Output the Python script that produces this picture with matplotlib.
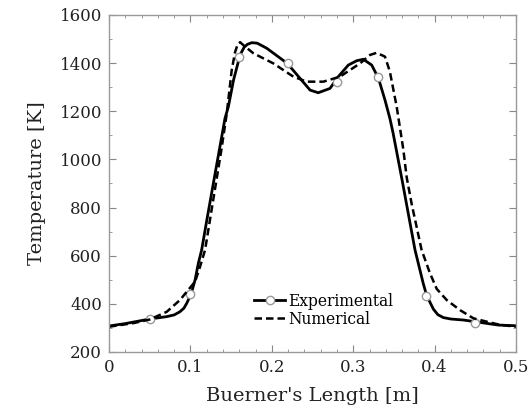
import numpy as np
import matplotlib
matplotlib.use("Agg")
import matplotlib.pyplot as plt
from matplotlib.lines import Line2D
from matplotlib.ticker import MultipleLocator

# experimental curve (solid)
exp_x = [0.0, 0.02, 0.05, 0.071, 0.08, 0.087, 0.092, 0.0954, 0.0985, 0.1016, 0.1057,
         0.1097, 0.1138, 0.12, 0.13, 0.1425, 0.1466, 0.153, 0.161, 0.166, 0.17,
         0.1753, 0.182, 0.1937, 0.219, 0.2346, 0.247, 0.257, 0.2715, 0.2817,
         0.294, 0.3043, 0.3124, 0.3227, 0.331, 0.339, 0.345, 0.349, 0.36, 0.3759,
         0.386, 0.3903, 0.3985, 0.404, 0.4107, 0.42, 0.435, 0.4496, 0.478, 0.5]
exp_T = [308, 318, 337, 347, 354, 367, 382, 402, 424, 450, 499,
         568, 624, 745, 935, 1171, 1219, 1330, 1434, 1466, 1478,
         1485, 1483, 1462, 1399, 1337, 1288, 1277, 1295, 1344,
         1392, 1410, 1416, 1392, 1337, 1247, 1171, 1109, 915, 624,
         485, 434, 378, 355, 343, 337, 333, 326, 312, 309]

# experimental measurement points
pts_x = [0.05, 0.1, 0.16, 0.22, 0.28, 0.33, 0.39, 0.45]
pts_T = [337, 442, 1427, 1399, 1322, 1341, 433, 322]

# numerical curve (dashed)
num_x = [0.0, 0.03, 0.05, 0.0709, 0.0872, 0.0954, 0.1057, 0.1118, 0.118, 0.13,
         0.138, 0.1446, 0.1507, 0.1548, 0.158, 0.161, 0.165, 0.1773, 0.2018,
         0.2264, 0.2428, 0.2633, 0.2838, 0.3084, 0.3206, 0.3288, 0.339, 0.345,
         0.3534, 0.3616, 0.3657, 0.3718, 0.384, 0.3943, 0.4026, 0.4148, 0.4312,
         0.4476, 0.464, 0.48, 0.5]
num_T = [305, 320, 335, 367, 416, 450, 492, 554, 624, 873,
         1039, 1190, 1370, 1445, 1478, 1487, 1475, 1441, 1399,
         1344, 1323, 1323, 1344, 1399, 1434, 1443, 1427, 1365,
         1219, 1040, 925, 815, 624, 527, 462, 416, 374,
         340, 326, 313, 305]

serif = ["DejaVu Serif"]
plt.rcParams["font.family"] = serif

fig = plt.figure(figsize=(5.31, 4.13), dpi=100)
ax = fig.add_axes([0.2053, 0.1477, 0.7665, 0.816])

ax.plot(exp_x, exp_T, color="black", lw=2.0, solid_joinstyle="round")
ax.plot(pts_x, pts_T, "o", ms=6, mfc="white", mec="#999999", mew=1.0)
ax.plot(num_x, num_T, color="black", lw=1.8, ls=(0, (3.0, 1.6)))

ax.set_xlim(0, 0.5)
ax.set_ylim(200, 1600)
ax.xaxis.set_minor_locator(MultipleLocator(0.02))
ax.yaxis.set_major_locator(MultipleLocator(200))
ax.yaxis.set_minor_locator(MultipleLocator(100))
ax.set_xticks([0, 0.1, 0.2, 0.3, 0.4, 0.5])
ax.set_xticklabels(["0", "0.1", "0.2", "0.3", "0.4", "0.5"])

ax.tick_params(which="both", direction="in", top=True, right=True,
               color="#888888", labelsize=12, labelcolor="#222222")
ax.tick_params(which="major", length=5, pad=5)
ax.tick_params(which="minor", length=2.5)
for s in ax.spines.values():
    s.set_color("#999999")
    s.set_linewidth(1.0)

ax.set_xlabel("Buerner's Length [m]", fontsize=14, color="#222222", labelpad=8)
ax.set_ylabel("Temperature [K]", fontsize=14, color="#222222", labelpad=10)

h_exp = Line2D([], [], color="black", lw=2.0, marker="o", ms=6,
               mfc="white", mec="#999999", mew=1.0)
h_num = Line2D([], [], color="black", lw=1.8, ls=(0, (3.0, 1.6)))
ax.legend([h_exp, h_num], ["Experimental", "Numerical"], loc="lower left",
          bbox_to_anchor=(0.33, 0.04), frameon=False, fontsize=11.2,
          handlelength=2.0, handletextpad=0.2, labelspacing=0.05,
          borderpad=0.2)

fig.savefig("out.png", dpi=100)
